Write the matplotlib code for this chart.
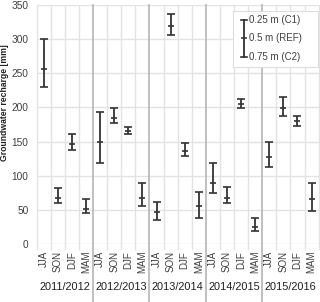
import numpy as np
import matplotlib
matplotlib.use("Agg")
import matplotlib.pyplot as plt
from matplotlib.patches import Rectangle

plt.rcParams["font.family"] = ["Liberation Sans", "DejaVu Sans"]

# Data
years = ["2011/2012", "2012/2013", "2013/2014", "2014/2015", "2015/2016"]
seasons = ["JJA", "SON", "DJF", "MAM"]

# recharge for 0.5 m (REF), 0.25 m (C1, upper) and 0.75 m (C2, lower)
ref = [256, 68, 147, 51,
       149, 185, 166, 67,
       47, 319, 136, 56,
       90, 68, 205, 25,
       128, 199, 180, 66]
c1 = [300, 82, 161, 66,
      193, 199, 171, 89,
      61, 337, 148, 76,
      118, 83, 213, 38,
      150, 216, 188, 90]
c2 = [230, 60, 137, 45,
      118, 177, 161, 56,
      35, 306, 129, 38,
      75, 60, 199, 19,
      113, 187, 173, 49]

line_col = "#333333"
text_col = "#404040"
grid_col = "#e3e3e3"
year_col = "#b5b5b5"

fig = plt.figure(figsize=(3.2, 3.02), dpi=100)
ax = fig.add_axes([0.1147, 0.192, 0.881, 0.7914])

n = len(ref)
x = np.arange(n)
ref = np.array(ref)
c1 = np.array(c1)
c2 = np.array(c2)

ax.set_xlim(-0.5, n - 0.5)
ax.set_ylim(0, 350)
ax.set_yticks(np.arange(0, 351, 50))
ax.yaxis.grid(True, color=grid_col, linewidth=1.0)
ax.set_axisbelow(True)

for s in ax.spines.values():
    s.set_visible(False)

# vertical separators between seasons and years
xt = ax.get_xaxis_transform()
for b in np.arange(-0.5, n, 1.0):
    if int(b + 0.5) % 4 == 0 and 0 < b < n - 1:
        ax.plot([b, b], [-0.245, 1], color=year_col, lw=1.2,
                transform=xt, clip_on=False, zorder=1)
    else:
        ax.plot([b, b], [-0.02, 1], color=grid_col, lw=1.0,
                transform=xt, clip_on=False, zorder=1)

# error bars
ax.errorbar(x, ref, yerr=[ref - c2, c1 - ref], fmt="_", color=line_col,
            ecolor=line_col, elinewidth=1.3, capsize=3.2, capthick=1.2,
            markersize=5, markeredgewidth=1.2, zorder=3)

ax.set_xticks(x)
ax.set_xticklabels(seasons * len(years), rotation=90, fontsize=7,
                   color=text_col)
ax.tick_params(axis="x", length=0, pad=5)
ax.tick_params(axis="y", length=0, labelsize=7.3, labelcolor=text_col, pad=6)

for i, yr in enumerate(years):
    ax.text(i * 4 + 1.5, -0.18, yr, transform=xt, ha="center", va="center",
            fontsize=7.9, color="#202020")

ax.set_ylabel("Groundwater recharge [mm]", fontsize=6.2, fontweight="bold",
              color="#202020")
ax.yaxis.set_label_coords(-0.097, 0.59)

# legend box drawn by hand
ax.add_patch(Rectangle((0.696, 0.741), 0.301, 0.234, transform=ax.transAxes,
                       facecolor="white", edgecolor="#dddddd", lw=0.8,
                       zorder=4))
lx = 0.736
ax.plot([lx, lx], [0.784, 0.937], color=line_col, lw=1.3,
        transform=ax.transAxes, zorder=5)
for yy, w in [(0.937, 0.01), (0.861, 0.008), (0.784, 0.01)]:
    ax.plot([lx - w, lx + w], [yy, yy], color=line_col, lw=1.2,
            transform=ax.transAxes, zorder=5)
for yy, lab in [(0.937, "0.25 m (C1)"), (0.861, "0.5 m (REF)"),
                (0.784, "0.75 m (C2)")]:
    ax.text(0.754, yy, lab, transform=ax.transAxes, ha="left", va="center",
            fontsize=7, color=text_col, zorder=5)

fig.savefig("out.png", dpi=100)
